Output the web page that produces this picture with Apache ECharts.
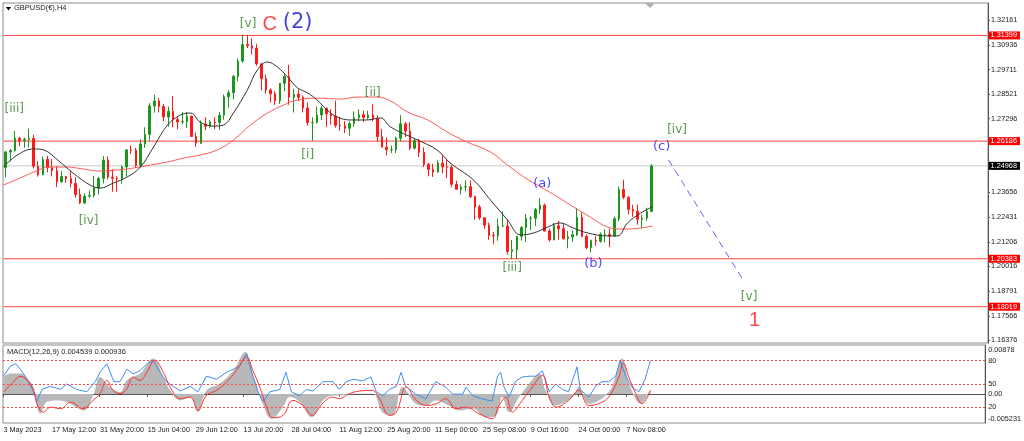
<!DOCTYPE html>
<html><head><meta charset="utf-8">
<script src="https://cdn.jsdelivr.net/npm/echarts@6/dist/echarts.min.js"></script>
<style>html,body{margin:0;padding:0;background:#fff}#c{width:1024px;height:441px}</style>
</head><body><div id="c"></div>
<script>
// ---- time axis (H4 bar slots) ----
const N_SLOTS = 1272;
const BARS_PER_DAY = 6;
const xTickBars = [0,63,125,187,249,311,373,435,497,559,621,683,745,807];
const xTickLabels = ['3 May 2023','17 May 12:00','31 May 20:00','15 Jun 04:00','29 Jun 12:00','13 Jul 20:00','28 Jul 04:00','11 Aug 12:00','25 Aug 20:00','11 Sep 00:00','25 Sep 08:00','9 Oct 16:00','24 Oct 00:00','7 Nov 08:00'];
const priceTicks = [1.32161,1.30936,1.29711,1.28521,1.27296,1.26071,1.24846,1.23656,1.22431,1.21206,1.20016,1.18791,1.17566,1.16376];

// ---- daily candles, 3 May 2023 .. 14 Nov 2023 ----
const opens = [1.2489,1.2565,1.2573,1.2633,1.2621,1.2627,1.2632,1.2495,1.2453,1.2528,
1.2488,1.2473,1.2418,1.2444,1.2434,1.2410,1.2355,1.2314,1.2347,1.2351,
1.2387,1.2434,1.2525,1.2441,1.2436,1.2433,1.2491,1.2576,1.2574,1.2499,
1.2605,1.2652,1.2792,1.2817,1.2790,1.2738,1.2765,1.2725,1.2713,1.2716,
1.2741,1.2641,1.2609,1.2703,1.2692,1.2713,1.2710,1.2746,1.2838,1.2857,
1.2938,1.3014,1.3095,1.3089,1.3077,1.3000,1.2927,1.2871,1.2852,1.2818,
1.2904,1.2937,1.2835,1.2850,1.2835,1.2782,1.2710,1.2711,1.2748,1.2781,
1.2753,1.2743,1.2696,1.2693,1.2682,1.2705,1.2734,1.2749,1.2735,1.2747,
1.2728,1.2640,1.2589,1.2576,1.2576,1.2633,1.2704,1.2668,1.2584,1.2621,
1.2563,1.2504,1.2479,1.2466,1.2510,1.2492,1.2490,1.2406,1.2381,1.2392,
1.2394,1.2345,1.2294,1.2241,1.2204,1.2154,1.2152,1.2200,1.2200,1.2074,
1.2083,1.2149,1.2193,1.2238,1.2238,1.2281,1.2303,1.2175,1.2131,1.2201,
1.2187,1.2137,1.2146,1.2157,1.2243,1.2149,1.2093,1.2128,1.2125,1.2159,
1.2159,1.2150,1.2236,1.2380,1.2342,1.2282,1.2273,1.2233,1.2239,1.2272];
const closes = [1.2565,1.2573,1.2633,1.2621,1.2627,1.2632,1.2495,1.2453,1.2528,1.2488,
1.2473,1.2418,1.2444,1.2434,1.2410,1.2355,1.2314,1.2347,1.2351,1.2387,
1.2434,1.2525,1.2441,1.2436,1.2433,1.2491,1.2576,1.2574,1.2499,1.2605,
1.2652,1.2792,1.2817,1.2790,1.2738,1.2765,1.2725,1.2713,1.2716,1.2741,
1.2641,1.2609,1.2703,1.2692,1.2713,1.2710,1.2746,1.2838,1.2857,1.2938,
1.3014,1.3095,1.3089,1.3077,1.3000,1.2927,1.2871,1.2852,1.2818,1.2904,
1.2937,1.2835,1.2850,1.2835,1.2782,1.2710,1.2711,1.2748,1.2781,1.2753,
1.2743,1.2696,1.2693,1.2682,1.2705,1.2734,1.2749,1.2735,1.2747,1.2728,
1.2640,1.2589,1.2576,1.2576,1.2633,1.2704,1.2668,1.2584,1.2621,1.2563,
1.2504,1.2479,1.2466,1.2510,1.2492,1.2490,1.2406,1.2381,1.2392,1.2394,
1.2345,1.2294,1.2241,1.2204,1.2154,1.2152,1.2200,1.2200,1.2074,1.2083,
1.2149,1.2193,1.2238,1.2238,1.2281,1.2303,1.2175,1.2131,1.2201,1.2187,
1.2137,1.2146,1.2157,1.2243,1.2149,1.2093,1.2128,1.2125,1.2159,1.2159,
1.2150,1.2236,1.2380,1.2342,1.2282,1.2273,1.2233,1.2239,1.2272,1.24968];
const highs = [1.2570,1.2579,1.2668,1.2640,1.2636,1.2680,1.2650,1.2520,1.2543,1.2546,
1.2530,1.2495,1.2471,1.2447,1.2472,1.2440,1.2385,1.2361,1.2375,1.2447,
1.2442,1.2545,1.2543,1.2480,1.2446,1.2499,1.2577,1.2597,1.2585,1.2628,
1.2687,1.2806,1.2848,1.2830,1.2802,1.2789,1.2841,1.2738,1.2762,1.2762,
1.2745,1.2660,1.2720,1.2737,1.2722,1.2737,1.2762,1.2849,1.2870,1.2946,
1.3027,1.3144,1.3143,1.3125,1.3099,1.3000,1.2946,1.2879,1.2865,1.2905,
1.2955,1.2995,1.2878,1.2873,1.2845,1.2809,1.2736,1.2789,1.2791,1.2783,
1.2776,1.2818,1.2739,1.2718,1.2716,1.2765,1.2775,1.2770,1.2768,1.2800,
1.2746,1.2679,1.2637,1.2596,1.2640,1.2746,1.2713,1.2712,1.2631,1.2631,
1.2588,1.2511,1.2506,1.2524,1.2548,1.2530,1.2500,1.2423,1.2405,1.2425,
1.2425,1.2350,1.2305,1.2244,1.2217,1.2171,1.2237,1.2271,1.2232,1.2131,
1.2152,1.2199,1.2260,1.2249,1.2289,1.2337,1.2310,1.2187,1.2215,1.2225,
1.2212,1.2176,1.2178,1.2288,1.2266,1.2158,1.2132,1.2150,1.2168,1.2183,
1.2187,1.2246,1.2395,1.2428,1.2346,1.2305,1.2306,1.2256,1.2290,1.2505];
const lows = [1.2440,1.2518,1.2566,1.2594,1.2586,1.2588,1.2484,1.2444,1.2450,1.2465,
1.2445,1.2392,1.2413,1.2412,1.2391,1.2340,1.2308,1.2309,1.2340,1.2340,
1.2355,1.2410,1.2430,1.2369,1.2369,1.2408,1.2444,1.2555,1.2488,1.2490,
1.2586,1.2620,1.2759,1.2761,1.2715,1.2690,1.2687,1.2677,1.2702,1.2683,
1.2642,1.2590,1.2604,1.2673,1.2685,1.2677,1.2675,1.2725,1.2781,1.2825,
1.2914,1.3005,1.3078,1.3046,1.2990,1.2868,1.2853,1.2808,1.2797,1.2802,
1.2865,1.2798,1.2760,1.2816,1.2760,1.2695,1.2620,1.2705,1.2723,1.2688,
1.2701,1.2685,1.2670,1.2658,1.2645,1.2688,1.2716,1.2712,1.2725,1.2717,
1.2615,1.2588,1.2548,1.2560,1.2560,1.2617,1.2639,1.2574,1.2578,1.2540,
1.2491,1.2445,1.2442,1.2464,1.2461,1.2436,1.2391,1.2379,1.2355,1.2371,
1.2338,1.2231,1.2231,1.2186,1.2132,1.2110,1.2127,1.2195,1.2058,1.2037,
1.2037,1.2128,1.2121,1.2180,1.2200,1.2260,1.2173,1.2123,1.2130,1.2133,
1.2133,1.2090,1.2122,1.2150,1.2145,1.2085,1.2070,1.2103,1.2118,1.2119,
1.2096,1.2149,1.2224,1.2332,1.2257,1.2245,1.2206,1.2187,1.2225,1.2269];

// ---- moving averages (bar slot, price) ----
const maFastBars = [0,18,39,52,70,90,112,125,142,160,177,194,212,229,242,254,271,284,297,315,328,341,354,367,380,393,405,418,431,448,470,487,500,535,560,577,607,629,651,668,685,703,719,736,754,780,793,806,823,838];
const maFastVals = [1.2491,1.2550,1.2580,1.2575,1.2526,1.2461,1.2402,1.2387,1.2412,1.2442,1.2491,1.2590,1.2698,1.2748,1.2757,1.2713,1.2693,1.2698,1.2757,1.2871,1.2970,1.3009,1.2984,1.2935,1.2881,1.2856,1.2822,1.2772,1.2738,1.2723,1.2723,1.2733,1.2688,1.2624,1.2575,1.2511,1.2427,1.2328,1.2230,1.2156,1.2166,1.2195,1.2215,1.2190,1.2166,1.2151,1.2151,1.2215,1.2264,1.2294];
const maSlowBars = [0,22,39,61,83,103,125,147,168,190,212,233,254,276,297,319,341,362,375,405,435,457,483,500,522,548,573,599,629,651,672,694,716,736,758,780,801,823,838];
const maSlowVals = [1.2402,1.2437,1.2466,1.2491,1.2491,1.2481,1.2471,1.2476,1.2486,1.2501,1.2516,1.2535,1.2550,1.2575,1.2624,1.2698,1.2757,1.2797,1.2817,1.2831,1.2826,1.2836,1.2836,1.2817,1.2762,1.2723,1.2664,1.2614,1.2565,1.2501,1.2442,1.2392,1.2343,1.2294,1.2244,1.2195,1.2185,1.2190,1.2200];

// ---- horizontal levels ----
const levelLines = [1.31399,1.26186,1.20383,1.18019];
const lastPrice = 1.24968;
const projection = [[859,1.2526],[956,1.1929]];

// ---- wave labels [text, bar slot, price] ----
const greenLabels = [['[iii]',14,1.2780],['[iv]',110,1.2225],['[v]',316,1.3196],['[i]',393,1.2550],['[ii]',477,1.2859],['[iii]',657,1.1995],['[iv]',870,1.2676],['[v]',963,1.1852]];
const blueLabels = [['(a)',696,1.2407],['(b)',762,1.2013],['(c)',850,1.2592]];
const blueBigLabels = [['(2)',380,1.3204]];
const redLabels = [['C',344,1.3196],['1',970,1.1736]];

// ---- MACD panel ----
const histBars = [0,9,22,31,39,48,56,69,82,104,117,125,138,151,160,177,194,207,216,229,242,252,263,280,298,313,323,336,347,362,371,384,399,414,427,435,457,478,491,504,517,534,547,560,577,590,608,625,638,646,655,668,681,694,702,715,737,745,758,775,788,801,812,825,838];
const histVals = [0.00302,0.00364,0.00364,0.00274,0.00122,-0.00356,-0.00148,-0.00117,-0.00148,-0.00297,0.00004,0.00302,0.00122,0.00032,0.00243,0.00364,0.00634,0.00302,0.00063,-0.00117,-0.00058,-0.00328,0.00063,0.00184,0.00423,0.00752,0.00364,-0.00176,-0.00446,-0.00238,-0.00058,-0.00148,-0.00418,-0.00117,-0.00027,-0.00027,0.00004,0.00004,-0.00328,-0.00387,0.00122,-0.00176,-0.00207,-0.00117,-0.00207,-0.00297,-0.00266,-0.00418,-0.00387,-0.00058,-0.00328,-0.00058,0.00184,0.00364,0.00063,-0.00207,-0.00058,0.00122,-0.00176,-0.00086,0.00122,0.00634,0.00122,-0.00176,0.00094];
const sigBars = [0,13,22,31,39,45,52,61,74,87,103,116,125,134,142,151,160,168,177,186,196,207,216,229,242,252,263,276,289,302,315,323,332,341,349,362,375,388,400,413,426,435,448,461,478,487,500,509,522,535,548,561,573,586,599,616,633,642,651,659,672,685,698,707,716,732,745,758,771,784,797,803,810,819,827,838];
const sigVals = [0.00032,0.00212,0.00315,0.00243,0.00063,-0.00238,-0.00328,-0.00238,-0.00266,-0.00148,-0.00266,-0.00117,0.00004,0.00243,0.00063,0.00004,0.00094,0.00302,0.00243,0.00392,0.00603,0.00392,0.00122,-0.00086,-0.00058,-0.00297,-0.00027,0.00063,0.00212,0.00423,0.00662,0.00423,0.00122,-0.00238,-0.00428,-0.00387,-0.00117,-0.00207,-0.00387,-0.00176,-0.00058,-0.00086,0.00004,0.00050,0.00063,-0.00086,-0.00387,-0.00328,0.00122,-0.00117,-0.00207,-0.00176,-0.00086,-0.00266,-0.00238,-0.00356,-0.00446,-0.00207,-0.00058,-0.00328,-0.00117,0.00122,0.00333,-0.00058,-0.00238,-0.00117,0.00063,-0.00207,-0.00176,-0.00058,0.00302,0.00554,0.00302,0.00004,-0.00176,0.00063];
const blueBars = [0,9,16,22,31,39,43,50,61,74,82,95,108,119,125,134,143,151,160,168,177,186,194,203,211,220,229,242,252,263,276,289,298,306,315,323,330,336,345,358,366,373,384,392,401,414,427,435,444,453,465,476,483,491,500,509,515,521,534,547,560,573,582,595,599,608,620,633,640,644,648,655,663,672,681,689,698,707,715,724,732,743,747,758,767,775,784,793,799,806,814,823,831,838];
const blueVals = [60,73,76,69,56,40,27,43,47,43,50,43,40,53,65,76,53,53,69,63,67,76,80,65,53,47,41,47,40,60,56,65,69,73,89,60,40,27,40,43,65,40,35,43,41,53,53,43,53,56,54,59,40,35,43,47,65,47,37,31,53,46,37,37,46,35,31,28,60,65,47,33,53,59,60,60,67,40,50,43,40,72,43,33,47,53,53,60,80,60,46,40,56,80];
const oscLevels = [80,50,20];
const macdAxisLabels = [0.00878,0,-0.005231];

// ---- build ----
const FONT = 'Liberation Sans, Arial, sans-serif';
const cats = Array.from({length:N_SLOTS}, (_, i) => {
  const k = xTickBars.indexOf(i); return k >= 0 ? xTickLabels[k] : '';
});
const candleData = closes.map((c, d) => [d * BARS_PER_DAY + 3, opens[d], c, lows[d], highs[d]]);
const zip = (a, b) => a.map((x, i) => [x, b[i]]);
const isTick = (idx) => xTickBars.indexOf(idx) >= 0;

function labelSeries(arr, color, size, family, weight) {
  return {
    type:'scatter', xAxisIndex:0, yAxisIndex:0, symbolSize:1, silent:true, z:20,
    itemStyle:{color:'rgba(0,0,0,0)'},
    data: arr.map(a => ({name:a[0], value:[a[1], a[2]]})),
    label:{show:true, position:'inside', formatter:'{b}', color:color, fontSize:size,
      fontFamily:family, fontWeight:weight || 'normal'}
  };
}
function levelSeries(v, lineColor, bg, z) {
  const txt = v.toFixed(5);
  return {type:'line', xAxisIndex:0, yAxisIndex:0, z:z, silent:true, showSymbol:false,
    data:[[0, v], [N_SLOTS - 1, v]],
    lineStyle:{color:lineColor, width:1, type:'solid'},
    endLabel:{show:true, distance:1, formatter:() => txt, color:'#fff',
      backgroundColor:bg, padding:[1,3,0,2], fontSize:7.3, fontFamily:FONT}};
}

const chart = echarts.init(document.getElementById('c'), null, {renderer:'canvas'});
chart.setOption({
  animation:false,
  backgroundColor:'#ffffff',
  title:[
    {text:'GBPUSD(€),H4', left:14, top:4, padding:0,
     textStyle:{fontSize:7.5, fontWeight:'normal', color:'#222', fontFamily:FONT}},
    {text:'MACD(12,26,9) 0.004539 0.000936', left:7, top:348, padding:0,
     textStyle:{fontSize:7.5, fontWeight:'normal', color:'#222', fontFamily:FONT}}
  ],
  graphic:[
    {type:'polygon', shape:{points:[[6,7],[11,7],[8.5,10.5]]}, style:{fill:'#000'}},
    {type:'polygon', shape:{points:[[645,3],[655,3],[650,8]]}, style:{fill:'#b0b0b0'}}
  ],
  grid:[
    {left:3, top:3, width:985, height:340, show:true, borderColor:'#8c8c8c', borderWidth:1, backgroundColor:'#fff'},
    {left:3, top:345, width:985, height:78, show:true, borderColor:'#8c8c8c', borderWidth:1, backgroundColor:'#fff'}
  ],
  xAxis:[
    {type:'category', gridIndex:0, data:cats, boundaryGap:true, show:false},
    {type:'category', gridIndex:1, data:cats, boundaryGap:true,
     axisLine:{show:true, lineStyle:{color:'#555'}},
     axisTick:{show:true, interval:isTick, length:3, lineStyle:{color:'#555'}},
     axisLabel:{show:true, interval:isTick, align:'left', margin:3, fontSize:7.3, color:'#222', fontFamily:FONT}}
  ],
  yAxis:[
    {type:'value', gridIndex:0, position:'right', min:1.16228, max:1.33, splitLine:{show:false},
     axisLine:{show:true, lineStyle:{color:'#555'}},
     axisTick:{show:true, length:2, customValues:priceTicks, lineStyle:{color:'#555'}},
     axisLabel:{customValues:priceTicks, formatter:v => v.toFixed(5), margin:3, fontSize:7.3, color:'#222', fontFamily:FONT}},
    {type:'value', gridIndex:1, position:'right', min:-0.005231, max:0.00878, splitLine:{show:false},
     axisLine:{show:true, lineStyle:{color:'#555'}}, axisTick:{show:false},
     axisLabel:{customValues:macdAxisLabels, margin:3, fontSize:7.3, color:'#222', fontFamily:FONT,
       formatter:v => v > 0.001 ? '{t|' + v.toFixed(5) + '}' : (v < -0.001 ? '{b|' + v.toFixed(6) + '}' : '0.00'),
       rich:{t:{padding:[10,0,0,0], fontSize:7.3, fontFamily:FONT, color:'#222'}, b:{padding:[0,0,8,0], fontSize:7.3, fontFamily:FONT, color:'#222'}}}},
    {type:'value', gridIndex:1, position:'right', min:0, max:100, splitLine:{show:false},
     axisLine:{show:false}, axisTick:{show:false},
     axisLabel:{customValues:oscLevels, margin:3, fontSize:7.3, color:'#222', fontFamily:FONT}}
  ],
  series:
    levelLines.map(v => levelSeries(v, '#ff4040', '#ff0000', 2))
    .concat([levelSeries(lastPrice, '#c8c8c8', '#000000', 1)])
    .concat([
    {type:'candlestick', xAxisIndex:0, yAxisIndex:0, barWidth:2, z:3,
     data:candleData, encode:{x:0, y:[1,2,3,4]},
     itemStyle:{color:'#1e961e', color0:'#ff1a1a', borderColor:'#1e961e', borderColor0:'#ff1a1a', borderWidth:1}},
    {type:'line', xAxisIndex:0, yAxisIndex:0, data:zip(maSlowBars, maSlowVals), smooth:0.4, showSymbol:false, z:4,
     lineStyle:{color:'#ff5a5a', width:1}},
    {type:'line', xAxisIndex:0, yAxisIndex:0, data:zip(maFastBars, maFastVals), smooth:0.4, showSymbol:false, z:5,
     lineStyle:{color:'#333', width:1}},
    {type:'line', xAxisIndex:0, yAxisIndex:0, data:projection, showSymbol:false, z:6,
     lineStyle:{color:'#6060ff', width:1, type:[7,5]}},
    labelSeries(greenLabels, '#2a7f1a', 12, 'DejaVu Sans'),
    labelSeries(blueLabels, '#1a1aff', 13, 'DejaVu Sans'),
    labelSeries(blueBigLabels, '#1414c8', 21, 'DejaVu Sans'),
    labelSeries(redLabels, '#ff1a1a', 20, FONT),
    {type:'line', xAxisIndex:1, yAxisIndex:1, data:zip(histBars, histVals), smooth:0.4, showSymbol:false, z:2,
     lineStyle:{width:0, color:'#b8b8b8'}, areaStyle:{color:'#b8b8b8', opacity:1, origin:0}},
    {type:'line', xAxisIndex:1, yAxisIndex:2, data:zip(blueBars, blueVals), smooth:false, showSymbol:false, z:3,
     lineStyle:{color:'#3d8ff2', width:1},
     markLine:{silent:true, symbol:['none','none'], label:{show:false},
       lineStyle:{color:'#ff4a4a', width:1, type:[2,2]}, data: oscLevels.map(v => ({yAxis:v}))}},
    {type:'line', xAxisIndex:1, yAxisIndex:1, data:zip(sigBars, sigVals), smooth:0.4, showSymbol:false, z:4,
     lineStyle:{color:'#ff3030', width:1}}
  ])
});
</script></body></html>
